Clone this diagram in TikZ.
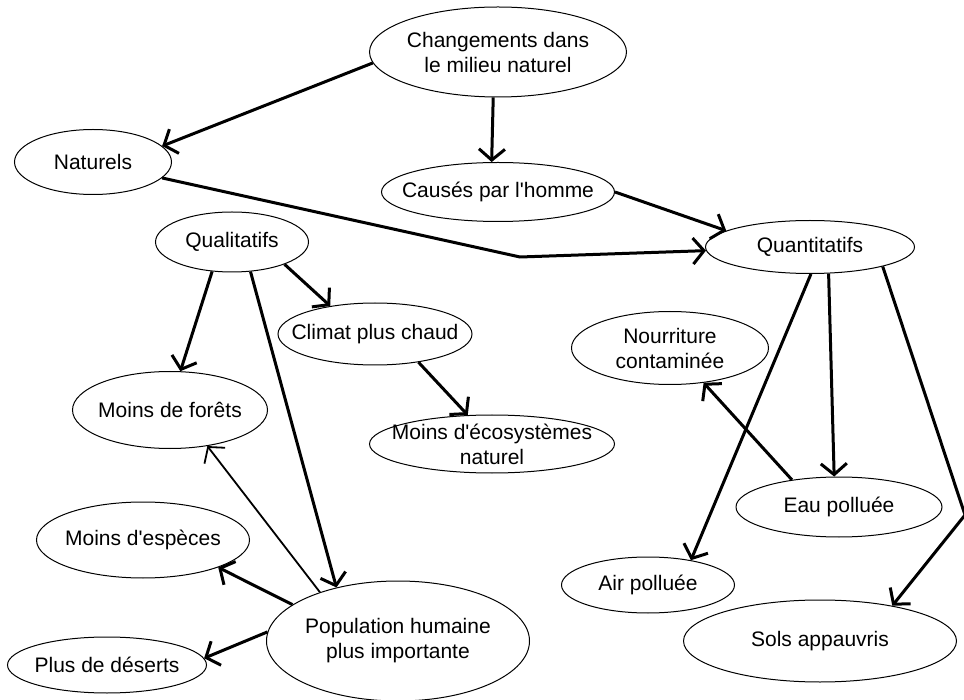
\documentclass[tikz,border=0pt]{standalone}
\usepackage{fontspec}
\setmainfont{Liberation Sans}
\usetikzlibrary{arrows.meta, shapes.geometric}
\tikzset{
  bulle/.style={draw, ellipse, line width=1pt, align=center, inner xsep=-25pt, inner ysep=-8pt, font=\fontsize{21}{25}\selectfont},
  fleche/.style={-{Straight Barb[length=11pt, width=26pt]}, line width=3pt},
  fleche fine/.style={fleche, line width=1.8pt},
}

\begin{document}
\begin{tikzpicture}[x=1pt, y=-1pt]
    \useasboundingbox (0,0) rectangle (964,700);
    \node[bulle, minimum width=257pt, minimum height=90pt] (chang) at (498,52) {Changements dans\\le milieu naturel};
    \node[bulle, minimum width=157pt, minimum height=65pt] (nat) at (93,162) {Naturels};
    \node[bulle, minimum width=233pt, minimum height=59pt] (cause) at (498,192) {Causés par l\textquotesingle homme};
    \node[bulle, minimum width=209pt, minimum height=53pt] (quanti) at (810,247) {Quantitatifs};
    \node[bulle, minimum width=153pt, minimum height=60pt] (quali) at (232,242) {Qualitatifs};
    \node[bulle, minimum width=194pt, minimum height=62pt] (climat) at (375,334) {Climat plus chaud};
    \node[bulle, minimum width=195pt, minimum height=77pt] (forets) at (170,410) {Moins de forêts};
    \node[bulle, minimum width=245pt, minimum height=58pt] (eco) at (492,444) {Moins d\textquotesingle écosystèmes\\naturel};
    \node[bulle, minimum width=197pt, minimum height=73pt] (nourr) at (670,348) {Nourriture\\contaminée};
    \node[bulle, minimum width=206pt, minimum height=60pt] (eau) at (839,507) {Eau polluée};
    \node[bulle, minimum width=213pt, minimum height=76pt] (especes) at (143,540) {Moins d\textquotesingle espèces};
    \node[bulle, minimum width=173pt, minimum height=56pt] (air) at (648,585) {Air polluée};
    \node[bulle, minimum width=263pt, minimum height=120pt] (pop) at (398,641) {Population humaine\\plus importante};
    \node[bulle, minimum width=199pt, minimum height=56pt] (deserts) at (107,665) {Plus de déserts};
    \node[bulle, minimum width=273pt, minimum height=82pt] (sols) at (820,641) {Sols appauvris};
    \coordinate (coude) at (520,257);
    \coordinate (bord) at (965,515);
    \draw[fleche] (chang.185) -- (nat.13);
    \draw[fleche] (chang.264) -- (cause.102);
    \draw[fleche] (nat.-13) -- (coude) -- (quanti.182);
    \draw[fleche] (cause.east) -- (quanti.169);
    \draw[fleche] (quali.-23) -- (climat.148);
    \draw[fleche] (quali.236) -- (forets.75);
    \draw[fleche] (quali.302) -- (pop.139);
    \draw[fleche] (climat.327) -- (eco.130);
    \draw[fleche fine] (pop.148) -- (forets.316);
    \draw[fleche] (pop.161) -- (especes.340);
    \draw[fleche] (pop.176) -- (deserts.4);
    \draw[fleche] (quanti.272) -- (air.30);
    \draw[fleche] (quanti.305) -- (eau.99);
    \draw[fleche] (quanti.345) -- (bord) -- (sols.26);
    \draw[fleche] (eau.150) -- (nourr.314);
  \end{tikzpicture}
\end{document}
